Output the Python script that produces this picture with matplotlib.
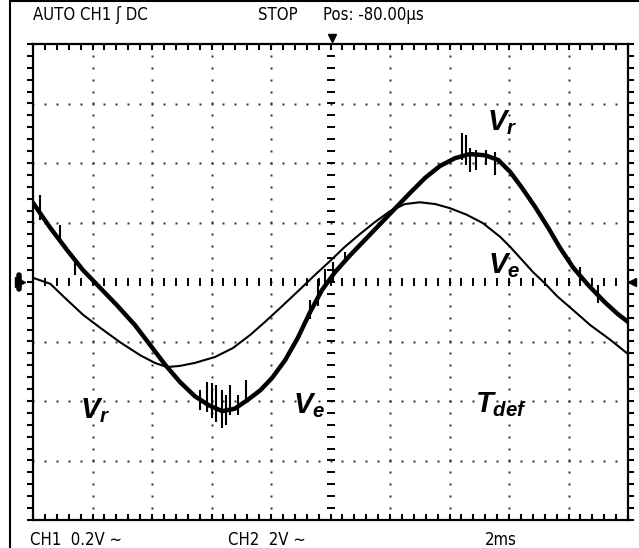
import numpy as np
import matplotlib
matplotlib.use("Agg")
import matplotlib.pyplot as plt
from matplotlib.lines import Line2D

# screen positions are in divisions (10 x 8), centre line at 0
ve_x = [0.00, 0.29, 0.54, 0.84, 1.13, 1.46, 1.80, 2.05, 2.25, 2.47, 2.72, 3.06, 3.36,
        3.65, 3.90, 4.15, 4.49, 4.74, 4.99, 5.24, 5.50, 5.75, 6.00, 6.25, 6.50, 6.76,
        7.01, 7.29, 7.56, 7.85, 8.02, 8.22, 8.40, 8.61, 8.81, 9.11, 9.36, 9.70, 10.0]
ve_y = [0.07, -0.03, -0.27, -0.55, -0.77, -1.01, -1.23, -1.36, -1.43, -1.41, -1.36, -1.26, -1.11,
        -0.89, -0.67, -0.44, -0.12, 0.12, 0.35, 0.59, 0.81, 1.01, 1.19, 1.31, 1.34, 1.31,
        1.24, 1.13, 0.99, 0.76, 0.59, 0.37, 0.17, -0.03, -0.24, -0.50, -0.72, -0.97, -1.21]

vr_x = [0.00, 0.29, 0.57, 0.84, 1.13, 1.41, 1.71, 1.97, 2.22, 2.47, 2.72, 2.97, 3.18,
        3.39, 3.61, 3.82, 4.02, 4.24, 4.45, 4.66, 4.86, 5.08, 5.33, 5.58, 5.83, 6.08,
        6.34, 6.59, 6.84, 7.09, 7.34, 7.60, 7.82, 8.02, 8.22, 8.44, 8.66, 8.86, 9.08,
        9.33, 9.61, 9.83, 10.0]
vr_y = [1.33, 0.91, 0.54, 0.20, -0.10, -0.39, -0.72, -1.06, -1.39, -1.68, -1.92, -2.08, -2.17,
        -2.13, -1.98, -1.82, -1.61, -1.31, -0.94, -0.50, -0.13, 0.17, 0.45, 0.71, 0.97, 1.23,
        1.50, 1.75, 1.95, 2.08, 2.15, 2.13, 2.05, 1.85, 1.58, 1.26, 0.91, 0.57, 0.24,
        -0.05, -0.34, -0.54, -0.67]

# noise spikes on the Vr trace: x, low, high
spike_x = [7.21, 7.28, 7.34, 7.45, 7.61, 7.76,
           2.81, 2.92, 3.01, 3.08, 3.18, 3.24, 3.31, 3.45, 3.58,
           4.66, 4.79, 4.91, 5.04, 5.24,
           0.12, 0.45, 0.71, 9.20, 9.50]
spike_lo = [2.05, 1.97, 1.85, 1.88, 1.97, 1.80,
            -2.15, -2.18, -2.29, -2.35, -2.45, -2.40, -2.24, -2.24, -1.98,
            -0.62, -0.40, -0.10, 0.00, 0.32,
            1.04, 0.70, 0.12, 0.00, -0.35]
spike_hi = [2.50, 2.47, 2.25, 2.22, 2.22, 2.18,
            -1.82, -1.68, -1.70, -1.73, -1.82, -1.90, -1.73, -1.90, -1.65,
            -0.30, 0.05, 0.22, 0.34, 0.50,
            1.46, 0.95, 0.40, 0.25, -0.05]

labels = [r'$V_r$', r'$V_e$', r'$V_r$', r'$V_e$', r'$T_{def}$']
label_x = [7.63, 7.65, 0.79, 4.37, 7.43]
label_y = [2.55, 0.15, -2.29, -2.20, -2.18]

top_texts = ['AUTO CH1 \u0283 DC', 'STOP', 'Pos: -80.00\u00b5s']
bottom_texts = ['CH1  0.2V \u223c', 'CH2  2V \u223c', '2ms']

plt.rcParams['mathtext.fontset'] = 'custom'
plt.rcParams['mathtext.it'] = 'Liberation Sans:italic:bold'
plt.rcParams['mathtext.rm'] = 'Liberation Sans:bold'

W, H = 639, 548
fig = plt.figure(figsize=(W / 100, H / 100), dpi=100)
L, R, T, B = 33, 628, 44, 520
ax = fig.add_axes([L / W, 1 - B / H, (R - L) / W, (B - T) / H])
ax.set_xlim(0, 10)
ax.set_ylim(-4, 4)
ax.set_xticks([])
ax.set_yticks([])
for s in ax.spines.values():
    s.set_linewidth(1.6)

# dotted graticule
minor = np.arange(0, 10.01, 0.2)
minor_y = np.arange(-4, 4.01, 0.2)
for gx in range(1, 10):
    if gx == 5:
        continue
    ax.plot(np.full(len(minor_y), gx), minor_y, ls='none', marker='s', ms=1.6, mfc='#333', mec='none')
for gy in range(-3, 4):
    if gy == 0:
        continue
    ax.plot(minor, np.full(len(minor), gy), ls='none', marker='s', ms=1.6, mfc='#333', mec='none')
# centre axes with dashes
ax.plot(minor, np.zeros(len(minor)), ls='none', marker='|', ms=6, mew=1.4, color='black')
ax.plot(np.full(len(minor_y), 5), minor_y, ls='none', marker='_', ms=6, mew=1.4, color='black')
# border ticks
ax.plot(minor, np.full(len(minor), 4), ls='none', marker=3, ms=4, mew=1.5, color='black', clip_on=False)
ax.plot(minor, np.full(len(minor), -4), ls='none', marker=2, ms=4, mew=1.5, color='black', clip_on=False)
ax.plot(np.zeros(len(minor_y)), minor_y, ls='none', marker=0, ms=4, mew=1.5, color='black', clip_on=False)
ax.plot(np.full(len(minor_y), 10), minor_y, ls='none', marker=1, ms=4, mew=1.5, color='black', clip_on=False)

# markers: trigger position, channel ground levels
ax.plot([5.03], [4.1], marker='v', ms=6, color='black', clip_on=False)
ax.plot([10.07], [0], marker='<', ms=6, color='black', clip_on=False)
ax.plot([-0.22], [0], marker='>', ms=7, color='black', clip_on=False)
ax.plot([-0.24, -0.24], [-0.12, 0.12], lw=4, color='black', clip_on=False, solid_capstyle='round')

# traces
ax.plot(ve_x, ve_y, color='black', lw=1.5)
ax.plot(vr_x, vr_y, color='black', lw=3.2)
ax.vlines(spike_x, spike_lo, spike_hi, color='black', lw=1.5)

for t, x, y in zip(labels, label_x, label_y):
    ax.text(x, y, t, fontsize=21, ha='left', va='baseline')

fkw = dict(fontsize=12, family='DejaVu Sans', fontstretch='condensed', va='baseline')
fig.text(33 / W, 1 - 20 / H, top_texts[0], **fkw)
fig.text(258 / W, 1 - 20 / H, top_texts[1], **fkw)
fig.text(323 / W, 1 - 20 / H, top_texts[2], **fkw)
fig.text(30 / W, 1 - 545 / H, bottom_texts[0], **fkw)
fig.text(228 / W, 1 - 545 / H, bottom_texts[1], **fkw)
fig.text(485 / W, 1 - 545 / H, bottom_texts[2], **fkw)

# outer frame of the screenshot (left and top edge)
fig.add_artist(Line2D([10 / W, 10 / W], [0, 1 - 1 / H], color='black', lw=1.5))
fig.add_artist(Line2D([10 / W, 1], [1 - 1 / H, 1 - 1 / H], color='black', lw=1.5))

fig.savefig('out.png', dpi=100)
